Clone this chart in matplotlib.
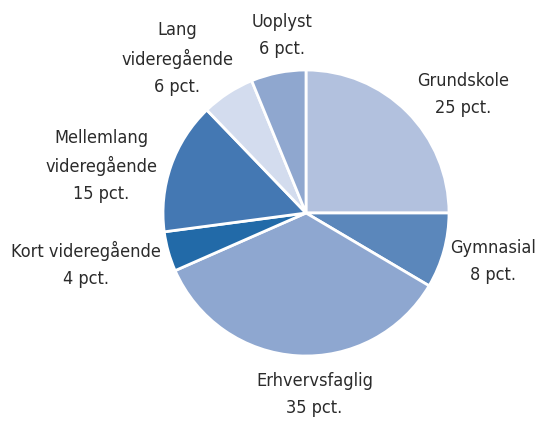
import matplotlib
matplotlib.use("Agg")
import matplotlib.pyplot as plt

labels = ["Grundskole", "Gymnasial", "Erhvervsfaglig", "Kort videregående",
          "Mellemlang\nvideregående", "Lang\nvideregående", "Uoplyst"]
shares = [25.0, 8.5, 34.9, 4.5, 14.9, 6.0, 6.2]   # wedge sizes
pct_text = [25, 8, 35, 4, 15, 6, 6]               # printed labels
colors = ["#b2c1de", "#5b87bb", "#8ea7d0", "#226aa8", "#4478b3", "#d3dcee", "#8fa7cf"]

# label block centres, in units of the pie radius
label_pos = [(1.10, 0.83), (1.31, -0.34), (0.06, -1.27), (-1.54, -0.36),
             (-1.43, 0.33), (-0.90, 1.08), (-0.17, 1.24)]

fig = plt.figure(figsize=(5.36, 4.21), dpi=100)
ax = fig.add_axes([0, 0, 1, 1])
ax.pie(shares, colors=colors, startangle=90, counterclock=False, radius=1,
       wedgeprops=dict(edgecolor="white", linewidth=2))

for lab, p, (x, y) in zip(labels, pct_text, label_pos):
    ax.text(x, y, f"{lab}\n{p} pct.", ha="center", va="center",
            fontsize=13, family="DejaVu Sans", fontstretch="condensed",
            color="#2b2b2b", linespacing=1.6)

ax.set_xlim(-306 / 143, (536 - 306) / 143)
ax.set_ylim(-208 / 143, 213 / 143)
ax.set_aspect("auto")
ax.axis("off")

fig.savefig("out.png", dpi=100)
